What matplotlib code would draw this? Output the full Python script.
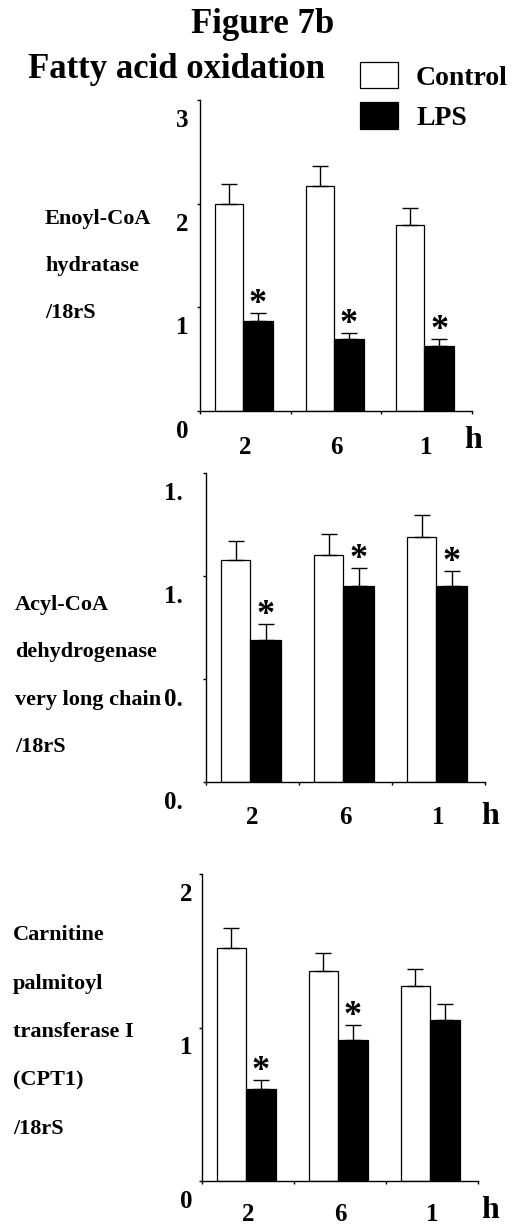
import matplotlib
matplotlib.use("Agg")
import matplotlib.pyplot as plt
from matplotlib.transforms import ScaledTranslation

plt.rcParams['font.family'] = ['Liberation Serif', 'DejaVu Serif']
plt.rcParams['font.weight'] = 'bold'

# time points (truncated in the original figure)
hours = ["2", "6", "1"]

# Enoyl-CoA hydratase / 18rS
enoyl_ctrl = [2.00, 2.17, 1.79]
enoyl_ctrl_err = [0.185, 0.195, 0.17]
enoyl_lps = [0.87, 0.69, 0.63]
enoyl_lps_err = [0.075, 0.065, 0.065]
enoyl_sig = [True, True, True]
enoyl_ticks = [0, 1, 2, 3]
enoyl_ticklabels = ["0", "1", "2", "3"]

# Acyl-CoA dehydrogenase very long chain / 18rS
acyl_ctrl = [1.08, 1.10, 1.19]
acyl_ctrl_err = [0.09, 0.105, 0.105]
acyl_lps = [0.69, 0.95, 0.95]
acyl_lps_err = [0.075, 0.09, 0.075]
acyl_sig = [True, True, True]
acyl_ticks = [0, 0.5, 1.0, 1.5]
acyl_ticklabels = ["0.", "0.", "1.", "1."]

# Carnitine palmitoyl transferase I / 18rS
cpt_ctrl = [1.52, 1.365, 1.27]
cpt_ctrl_err = [0.13, 0.12, 0.11]
cpt_lps = [0.60, 0.92, 1.05]
cpt_lps_err = [0.06, 0.095, 0.10]
cpt_sig = [True, True, False]
cpt_ticks = [0, 1, 2]
cpt_ticklabels = ["0", "1", "2"]

W, H = 519, 1227
fig = plt.figure(figsize=(W / 100, H / 100), dpi=100)

# pixel boxes: left, right, top, bottom
panels = [
    dict(box=(200, 472, 100, 411), ctrl=enoyl_ctrl, ce=enoyl_ctrl_err, lps=enoyl_lps, le=enoyl_lps_err,
         sig=enoyl_sig, ticks=enoyl_ticks, tl=enoyl_ticklabels, tpad=6, xpad=18, h=(1, -30),
         label=["Enoyl-CoA", "hydratase", "/18rS"], lab_x=45, lab_y=224, lab_step=47),
    dict(box=(206, 485, 473, 782), ctrl=acyl_ctrl, ce=acyl_ctrl_err, lps=acyl_lps, le=acyl_lps_err,
         sig=acyl_sig, ticks=acyl_ticks, tl=acyl_ticklabels, tpad=14, xpad=17, h=(5, -34),
         label=["Acyl-CoA", "dehydrogenase", "very long chain", "/18rS"], lab_x=15, lab_y=610, lab_step=47.3),
    dict(box=(202, 478, 874, 1181), ctrl=cpt_ctrl, ce=cpt_ctrl_err, lps=cpt_lps, le=cpt_lps_err,
         sig=cpt_sig, ticks=cpt_ticks, tl=cpt_ticklabels, tpad=4, xpad=16, h=(12, -30),
         label=["Carnitine", "palmitoyl", "transferase I", "(CPT1)", "/18rS"], lab_x=13, lab_y=940, lab_step=48.5),
]

handles = None
for p in panels:
    l, r, t, b = p["box"]
    ax = fig.add_axes([l / W, 1 - b / H, (r - l) / W, (b - t) / H])
    xc = [i + 0.32 for i in range(3)]
    xl = [i + 0.64 for i in range(3)]
    bc = ax.bar(xc, p["ctrl"], width=0.31, color="white", edgecolor="black", linewidth=0.9, label="Control")
    bl = ax.bar(xl, p["lps"], width=0.33, color="black", edgecolor="black", linewidth=0.9, label="LPS")
    ax.errorbar(xc, p["ctrl"], yerr=[[0] * 3, p["ce"]], fmt="none", ecolor="black", elinewidth=1, capsize=5.5, capthick=1)
    ax.errorbar(xl, p["lps"], yerr=[[0] * 3, p["le"]], fmt="none", ecolor="black", elinewidth=1, capsize=5.5, capthick=1)
    for x, v, e, s in zip(xl, p["lps"], p["le"], p["sig"]):
        if s:
            ax.annotate("*", xy=(x, v + e), xytext=(0, 0), textcoords="offset pixels",
                        ha="center", va="baseline", fontsize=26, fontweight="bold")
    if handles is None:
        handles = (bc, bl)

    ax.set_xlim(0, 3)
    ax.set_ylim(p["ticks"][0], p["ticks"][-1])
    for s in ["top", "right"]:
        ax.spines[s].set_visible(False)
    for s in ["left", "bottom"]:
        ax.spines[s].set_linewidth(1.0)

    ax.set_xticks([0, 1, 2, 3], ["", "", "", ""])
    ax.set_xticks([0.5, 1.5, 2.5], hours, minor=True)
    ax.tick_params(axis="x", which="major", direction="out", length=2.5, width=1)
    ax.tick_params(axis="x", which="minor", length=0, pad=p["xpad"], labelsize=18)

    ax.set_yticks(p["ticks"], p["tl"])
    ax.tick_params(axis="y", direction="out", length=2.5, width=1, pad=p["tpad"], labelsize=18)
    off = ScaledTranslation(0, -18 / 100, fig.dpi_scale_trans)
    for lab in ax.get_yticklabels():
        lab.set_transform(lab.get_transform() + off)

    ax.annotate("h", xy=(1, 0), xycoords="axes fraction", xytext=p["h"], textcoords="offset pixels",
                ha="center", va="center", fontsize=23, fontweight="bold")

    for k, line in enumerate(p["label"]):
        fig.text(p["lab_x"] / W, 1 - (p["lab_y"] + k * p["lab_step"]) / H, line,
                 ha="left", va="baseline", fontsize=16, fontweight="bold")

fig.text(263 / W, 1 - 33 / H, "Figure 7b", ha="center", va="baseline", fontsize=25, fontweight="bold")
fig.text(177 / W, 1 - 78 / H, "Fatty acid oxidation", ha="center", va="baseline", fontsize=25, fontweight="bold")

fig.legend(handles, ["Control", "LPS"], loc="upper left", bbox_to_anchor=(360 / W, 1 - 62 / H),
           frameon=False, borderpad=0, borderaxespad=0, handlelength=1.37, handleheight=1.08,
           handletextpad=0.65, labelspacing=0.42, prop=dict(size=20, weight="bold"))

fig.savefig("out.png", dpi=100)
